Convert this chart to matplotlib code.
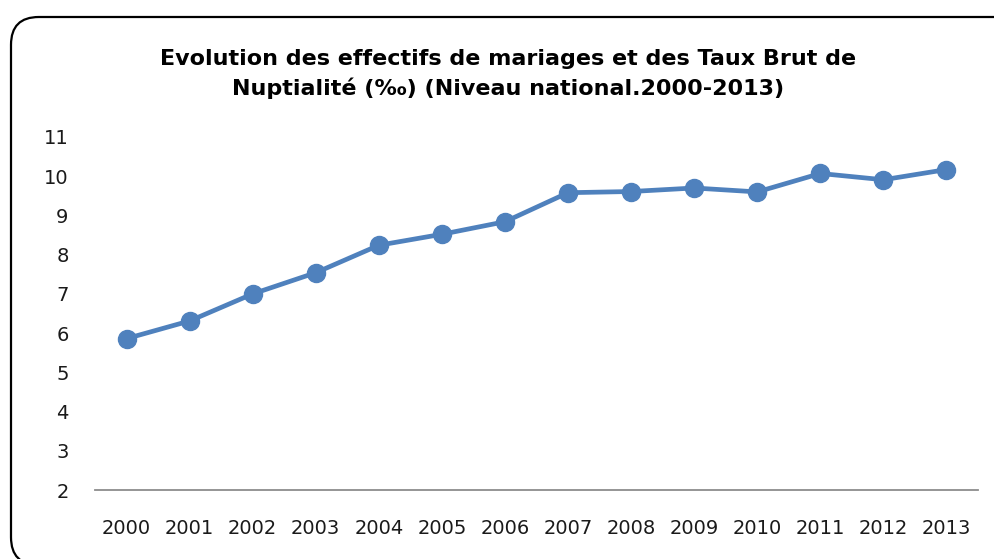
import matplotlib.pyplot as plt
from matplotlib.patches import FancyBboxPatch

years = ["2000", "2001", "2002", "2003", "2004", "2005", "2006",
         "2007", "2008", "2009", "2010", "2011", "2012", "2013"]
tbn = [5.86, 6.31, 7.00, 7.54, 8.24, 8.52, 8.84,
       9.58, 9.61, 9.70, 9.60, 10.07, 9.91, 10.17]

plt.rcParams['font.family'] = ['DejaVu Sans']

fig = plt.figure(figsize=(9.94, 5.59), dpi=100)

# rounded chart border, running off the right and bottom edges like the source
border = FancyBboxPatch((11 / 994, -6 / 559), 1.05, 548 / 559,
                        boxstyle="round,pad=0,rounding_size=0.028",
                        transform=fig.transFigure, fill=False,
                        edgecolor="black", linewidth=1.6, clip_on=False,
                        mutation_aspect=994 / 559)
fig.patches.append(border)

ax = fig.add_axes([95 / 994, 1 - 490 / 559, 883 / 994, (490 - 137) / 559])
x = range(len(years))
ax.plot(x, tbn, color="#4F81BD", linewidth=3.4, marker="o", markersize=13)

ax.set_xlim(-0.5, len(years) - 0.5)
ax.set_ylim(2, 11)
ax.set_yticks(range(2, 12))
ax.set_xticks(list(x))
ax.set_xticklabels(years)
ax.tick_params(axis="both", length=0, labelsize=14, colors="#1a1a1a")
ax.tick_params(axis="x", pad=21)
ax.tick_params(axis="y", pad=19)

for s in ["top", "right", "left"]:
    ax.spines[s].set_visible(False)
ax.spines["bottom"].set_color("#8C8C8C")
ax.spines["bottom"].set_linewidth(1.3)

fig.text(0.511, 1 - 74 / 559,
         "Evolution des effectifs de mariages et des Taux Brut de\nNuptialité (‰) (Niveau national.2000-2013)",
         ha="center", va="center", fontsize=16, fontweight="bold",
         linespacing=1.5)

fig.savefig("out.png", dpi=100)
